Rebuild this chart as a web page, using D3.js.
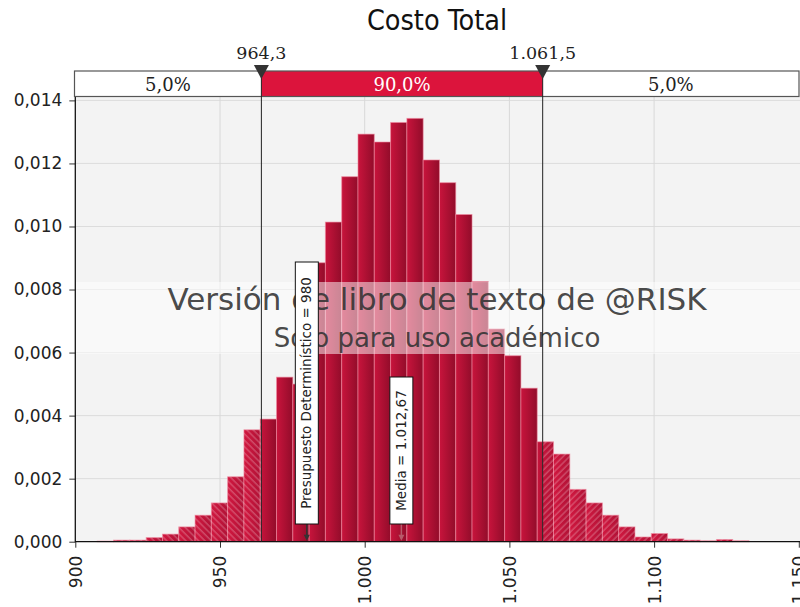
<!DOCTYPE html>
<html><head><meta charset="utf-8">
<script src="https://cdn.jsdelivr.net/npm/d3@7"></script>
<style>body{margin:0;background:#fff}svg{display:block}</style>
</head><body>
<svg id="c" width="800" height="607"></svg>
<script>
// ---- data ----
const title = "Costo Total";
const binStart = 907.6;
const binWidth = 5.63;
const density = [0.00002,0.00005,0.00005,0.00013,0.00024,0.00047,0.00084,0.00123,0.00206,0.00355,
  0.00389,0.00522,0.00500,0.00885,0.01014,0.01158,0.01293,0.01268,0.01330,0.01343,
  0.01211,0.01139,0.01038,0.00825,0.00675,0.00590,0.00487,0.00317,0.00278,0.00166,
  0.00123,0.00084,0.00047,0.00015,0.00026,0.00009,0.00005,0.00003,0.00007,0.00003];
const xTicks = [900, 950, 1000, 1050, 1100, 1150];
const yTicks = [0, 0.002, 0.004, 0.006, 0.008, 0.010, 0.012, 0.014];
const cutLow = 964.3, cutHigh = 1061.5;
const bandPercents = ["5,0%", "90,0%", "5,0%"];
const cutLabels = ["964,3", "1.061,5"];
const markers = [
  {value: 980, label: "Presupuesto Determinístico = 980", top: 262, arrow: "#333"},
  {value: 1012.67, label: "Media = 1.012,67", top: 377, arrow: "#b85a6a"}
];
const watermark = ["Versión de libro de texto de @RISK", "Solo para uso académico"];

// ---- layout ----
const L = 75.3, R = 798.8, T = 97, B = 541.7;
const svg = d3.select("#c");
const loc = d3.formatLocale({decimal: ",", thousands: ".", grouping: [3], currency: ["", ""]});
const fx = loc.format(",.0f"), fy = loc.format(".3f");
const x = d3.scaleLinear().domain([900, 1150]).range([L, R]);
const y = d3.scaleLinear().domain([0, 0.014]).range([B, 100.4]);
const sans = "'DejaVu Sans', Verdana, sans-serif";

const defs = svg.append("defs");
const g1 = defs.append("linearGradient").attr("id", "barG").attr("x1", 0).attr("x2", 1).attr("y1", 0).attr("y2", 0);
g1.append("stop").attr("offset", 0).attr("stop-color", "#c8143c");
g1.append("stop").attr("offset", 1).attr("stop-color", "#920c2a");
const g2 = defs.append("linearGradient").attr("id", "tailG").attr("x1", 0).attr("x2", 1).attr("y1", 0).attr("y2", 0);
g2.append("stop").attr("offset", 0).attr("stop-color", "#d21840");
g2.append("stop").attr("offset", 1).attr("stop-color", "#b01236");
[["hL", -45], ["hR", 45]].forEach(([id, r]) => {
  const p = defs.append("pattern").attr("id", id).attr("patternUnits", "userSpaceOnUse")
    .attr("width", 4.5).attr("height", 4.5).attr("patternTransform", `rotate(${r})`);
  p.append("line").attr("x1", 1).attr("x2", 1).attr("y1", 0).attr("y2", 4.5)
    .attr("stroke", "#ffffff").attr("stroke-opacity", 0.35).attr("stroke-width", 1);
});
defs.append("clipPath").attr("id", "cMid").append("rect")
  .attr("x", x(cutLow)).attr("y", 0).attr("width", x(cutHigh) - x(cutLow)).attr("height", 607);
defs.append("clipPath").attr("id", "cLeft").append("rect")
  .attr("x", 0).attr("y", 0).attr("width", x(cutLow)).attr("height", 607);
defs.append("clipPath").attr("id", "cRight").append("rect")
  .attr("x", x(cutHigh)).attr("y", 0).attr("width", 800 - x(cutHigh)).attr("height", 607);

// plot background
svg.append("rect").attr("x", L).attr("y", T).attr("width", 800 - L).attr("height", B - T).attr("fill", "#f3f3f3");
// grid
svg.append("g").selectAll("line").data(yTicks.slice(1)).join("line")
  .attr("x1", L).attr("x2", 800).attr("y1", d => y(d)).attr("y2", d => y(d))
  .attr("stroke", "#dcdcdc").attr("stroke-width", 1);
svg.append("g").selectAll("line").data(xTicks.slice(1, -1)).join("line")
  .attr("x1", d => x(d)).attr("x2", d => x(d)).attr("y1", T).attr("y2", B)
  .attr("stroke", "#d8d8d8").attr("stroke-width", 1);

// bars
const bins = density.map((d, i) => ({x0: binStart + i * binWidth, x1: binStart + (i + 1) * binWidth, v: d}));
function drawBars(clip, fill, hatch) {
  const g = svg.append("g").attr("clip-path", `url(#${clip})`);
  g.selectAll("rect.b").data(bins).join("rect").attr("class", "b")
    .attr("x", d => x(d.x0)).attr("width", d => x(d.x1) - x(d.x0))
    .attr("y", d => y(d.v)).attr("height", d => B - y(d.v))
    .attr("fill", fill).attr("stroke", "#f08aa0").attr("stroke-opacity", 0.6).attr("stroke-width", 1);
  if (hatch) g.selectAll("rect.h").data(bins).join("rect").attr("class", "h")
    .attr("x", d => x(d.x0)).attr("width", d => x(d.x1) - x(d.x0))
    .attr("y", d => y(d.v)).attr("height", d => B - y(d.v))
    .attr("fill", `url(#${hatch})`);
}
drawBars("cMid", "url(#barG)", null);
drawBars("cLeft", "url(#tailG)", "hL");
drawBars("cRight", "url(#tailG)", "hR");

// watermark band
svg.append("rect").attr("x", L).attr("y", 282).attr("width", 800 - L).attr("height", 72)
  .attr("fill", "#ffffff").attr("fill-opacity", 0.5);
svg.append("text").attr("x", 437).attr("y", 310).attr("text-anchor", "middle")
  .attr("font-family", sans).attr("font-size", 31).attr("fill", "#333").attr("fill-opacity", 0.9)
  .text(watermark[0]);
svg.append("text").attr("x", 437).attr("y", 347).attr("text-anchor", "middle")
  .attr("font-family", sans).attr("font-size", 26).attr("fill", "#333").attr("fill-opacity", 0.9)
  .text(watermark[1]);

// axes
const yAxis = d3.axisLeft(y).tickValues(yTicks).tickFormat(fy).tickSize(6).tickPadding(7);
const ya = svg.append("g").attr("transform", `translate(${L},0)`).call(yAxis);
ya.select(".domain").remove();
ya.selectAll("text").attr("font-family", sans).attr("font-size", 17).attr("fill", "#222");
ya.selectAll("line").attr("stroke", "#333");
const xAxis = d3.axisBottom(x).tickValues(xTicks).tickFormat(fx).tickSize(6).tickPadding(8);
const xa = svg.append("g").attr("transform", `translate(0,${B})`).call(xAxis);
xa.select(".domain").remove();
xa.selectAll("line").attr("stroke", "#333");
xa.selectAll("text").attr("font-family", sans).attr("font-size", 17).attr("fill", "#222")
  .attr("text-anchor", "end").attr("dy", "0.35em").attr("dx", 0)
  .attr("transform", "translate(0,8) rotate(-90)").attr("x", -6).attr("y", 0);
svg.append("line").attr("x1", L).attr("x2", L).attr("y1", T).attr("y2", B + 0.5).attr("stroke", "#111").attr("stroke-width", 1.3);
svg.append("line").attr("x1", L).attr("x2", 800).attr("y1", B).attr("y2", B).attr("stroke", "#111").attr("stroke-width", 1.3);

// marker label boxes
markers.forEach(m => {
  const cx = x(m.value), bw = 23, bot = 524;
  svg.append("line").attr("x1", cx).attr("x2", cx).attr("y1", bot).attr("y2", B - 3)
    .attr("stroke", m.arrow).attr("stroke-width", 1.5);
  svg.append("path").attr("d", `M${cx - 3},${B - 7}L${cx + 3},${B - 7}L${cx},${B - 1}Z`).attr("fill", m.arrow);
  svg.append("rect").attr("x", cx - bw / 2).attr("y", m.top).attr("width", bw).attr("height", bot - m.top)
    .attr("fill", "#fff").attr("stroke", "#111").attr("stroke-width", 1);
  svg.append("text").attr("transform", `translate(${cx + 4.5},${(m.top + bot) / 2}) rotate(-90)`)
    .attr("text-anchor", "middle").attr("font-family", sans).attr("font-size", 13.5).attr("fill", "#222")
    .text(m.label);
});

// top percentile band
const bandY = 71, bandH = 25.5;
svg.append("rect").attr("x", x(cutLow)).attr("y", bandY).attr("width", x(cutHigh) - x(cutLow)).attr("height", bandH).attr("fill", "#dc143c");
svg.append("rect").attr("x", 74.5).attr("y", bandY).attr("width", 799 - 74.5).attr("height", bandH)
  .attr("fill", "none").attr("stroke", "#555").attr("stroke-width", 1.2);
const bandCenters = [(74.5 + x(cutLow)) / 2, (x(cutLow) + x(cutHigh)) / 2, (x(cutHigh) + 799) / 2];
svg.append("g").selectAll("text").data(bandPercents).join("text")
  .attr("x", (d, i) => bandCenters[i]).attr("y", 90.5).attr("text-anchor", "middle")
  .attr("font-family", "'DejaVu Serif', serif").attr("font-size", 18)
  .attr("fill", (d, i) => i === 1 ? "#fff" : "#222").text(d => d);

// cut lines, triangles, labels
[cutLow, cutHigh].forEach((c, i) => {
  const cx = x(c);
  svg.append("line").attr("x1", cx).attr("x2", cx).attr("y1", 72).attr("y2", B).attr("stroke", "#222").attr("stroke-width", 1);
  svg.append("path").attr("d", `M${cx - 7.5},65L${cx + 7.5},65L${cx},79Z`).attr("fill", "#333");
  svg.append("text").attr("x", cx).attr("y", 59).attr("text-anchor", "middle")
    .attr("font-family", "'DejaVu Serif', serif").attr("font-size", 17.5).attr("fill", "#222").text(cutLabels[i]);
});

// title
svg.append("text").attr("x", 437).attr("y", 30).attr("text-anchor", "middle")
  .attr("font-family", "'DejaVu Sans Condensed', 'DejaVu Sans', sans-serif").attr("font-stretch", "condensed")
  .attr("font-size", 28.5).attr("fill", "#111").text(title);
</script>
</body></html>
